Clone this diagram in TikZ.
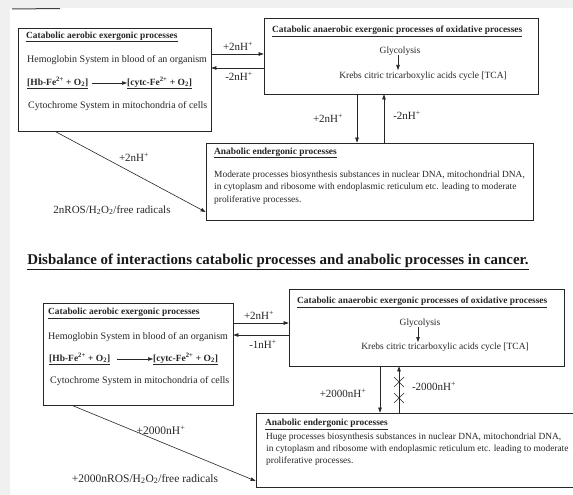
\documentclass[tikz,border=0pt]{standalone}
\usepackage{fontspec}
\setmainfont{Liberation Serif}
\usetikzlibrary{arrows.meta}
\newcommand{\Hp}{H\textsuperscript{+}}
\newcommand{\HtwoOtwo}{H\textsubscript{2}O\textsubscript{2}}
\begin{document}
\begin{tikzpicture}[x=1pt,y=-1pt,
  box/.style={draw=black!85, line width=0.7pt, inner sep=0pt},
  txt/.style={inner sep=0pt, anchor=west, text=black!85, font=\fontsize{10}{12}\selectfont},
  eqtxt/.style={inner sep=0pt, anchor=west, text=black!85, font=\fontsize{9.5}{11}\selectfont\bfseries},
  stxt/.style={inner sep=0pt, anchor=west, text=black!85, font=\fontsize{9.4}{11}\selectfont},
  ctxt/.style={inner sep=0pt, text=black!85, font=\fontsize{9.5}{11}\selectfont},
  head/.style={inner sep=0pt, anchor=west, text=black!85, font=\fontsize{9.4}{11}\selectfont\bfseries},
  chead/.style={inner sep=0pt, anchor=west, text=black!85, font=\fontsize{9.4}{11}\selectfont\bfseries},
  lab/.style={inner sep=0pt, text=black!85, font=\fontsize{11}{13}\selectfont},
  arr/.style={draw=black!85, line width=0.6pt, -{Triangle[length=5pt,width=3.5pt]}},
  ln/.style={draw=black!85, line width=0.6pt}
]
\clip (0,0) rectangle (573,495);
\useasboundingbox (0,0) rectangle (573,495);
\fill[gray!12] (0,0) rectangle (573,495);
\fill[white] (10,8) rectangle (573,495);
\draw[black!75, line width=1pt] (12,9) -- (60,8.5);

% ---------- top diagram ----------
\node[box, minimum width=193pt, minimum height=103pt] (A) at (114.5,79.5) {};
\node[head] (Ah) at (26,37) {\underline{Catabolic aerobic exergonic processes}};
\node[txt] (A1) at (27,60) {Hemoglobin System in blood of an organism};
\node[eqtxt] (A2l) at (27,83) {\underline{[Hb-Fe\textsuperscript{2+} + O\textsubscript{2}]}};
\node[eqtxt] (A2r) at (127,83) {\underline{[cytc-Fe\textsuperscript{2+} + O\textsubscript{2}]}};
\draw[arr] (A2l.east) ++(3,0) -- (A2r.west);
\node[txt] (A3) at (28,106) {Cytochrome System in mitochondria of cells};

\node[box, minimum width=274pt, minimum height=76pt] (B) at (401,56) {};
\node[head] (Bh) at (272,31) {\underline{Catabolic anaerobic exergonic processes of oxidative processes}};
\node[ctxt] (B1) at (400,51) {Glycolysis};
\node[ctxt] (B2) at (423,76) {Krebs citric tricarboxylic acids cycle [TCA]};
\draw[arr] (398,55) -- (398,70);

\node[box, minimum width=327pt, minimum height=77pt] (C) at (369.5,181.5) {};
\node[chead] (Ch) at (214,153) {\underline{Anabolic endergonic processes}};
\node[stxt] (C1) at (214,175) {Moderate processes biosynthesis substances in nuclear DNA, mitochondrial DNA,};
\node[stxt] (C2) at (214,187.5) {in cytoplasm and ribosome with endoplasmic reticulum etc. leading to moderate};
\node[stxt] (C3) at (214,200) {proliferative processes.};

\coordinate (ya) at (0,54);
\coordinate (yb) at (0,68);
\draw[arr] (A.east |- ya) -- (B.west |- ya);
\draw[arr] (B.west |- yb) -- (A.east |- yb);
\node[lab] (l1) at (238,46) {+2n\Hp};
\node[lab] (l2) at (239,76) {-2n\Hp};

\coordinate (xa) at (357,0);
\coordinate (xb) at (384,0);
\draw[arr] (B.south -| xa) -- (C.north -| xa);
\draw[arr] (C.north -| xb) -- (B.south -| xb);
\node[lab] (l3) at (328,118) {+2n\Hp};
\node[lab] (l4) at (407,115) {-2n\Hp};

\coordinate (da) at (55,0);
\coordinate (db) at (0,212);
\draw[arr] (A.south -| da) -- (C.west |- db);
\node[lab] (l5) at (134,157) {+2n\Hp};
\node[lab] (l6) at (112,210) {2nROS/\HtwoOtwo/free radicals};

% ---------- title ----------
\node[inner sep=0pt, text=black!90, font=\fontsize{14.9}{17}\selectfont\bfseries] (T) at (278,262)
  {\underline{Disbalance of interactions catabolic processes and anabolic processes in cancer.}};

% ---------- bottom diagram ----------
\node[box, minimum width=190pt, minimum height=102pt] (D) at (138,354) {};
\node[head] (Dh) at (48,313) {\underline{Catabolic aerobic exergonic processes}};
\node[txt] (D1) at (48,337) {Hemoglobin System in blood of an organism};
\node[eqtxt] (D2l) at (49,359) {\underline{[Hb-Fe\textsuperscript{2+} + O\textsubscript{2}]}};
\node[eqtxt] (D2r) at (153,359) {\underline{[cytc-Fe\textsuperscript{2+} + O\textsubscript{2}]}};
\draw[arr] (D2l.east) ++(6,0) -- (D2r.west);
\node[txt] (D3) at (50,381) {Cytochrome System in mitochondria of cells};

\node[box, minimum width=275pt, minimum height=77pt] (E) at (426.5,327.5) {};
\node[head] (Eh) at (297,302) {\underline{Catabolic anaerobic exergonic processes of oxidative processes}};
\node[ctxt] (E1) at (420,323) {Glycolysis};
\node[ctxt] (E2) at (445,347) {Krebs citric tricarboxylic acids cycle [TCA]};
\draw[arr] (418,327) -- (418,342);

\node[box, minimum width=344pt, minimum height=74pt] (F) at (428,450) {};
\node[chead] (Fh) at (265,424) {\underline{Anabolic endergonic processes}};
\node[stxt] (F1) at (266,437) {Huge processes biosynthesis substances in nuclear DNA, mitochondrial DNA,};
\node[stxt] (F2) at (266,449) {in cytoplasm and ribosome with endoplasmic reticulum etc. leading to moderate};
\node[stxt] (F3) at (266,461) {proliferative processes.};

\coordinate (yc) at (0,323);
\coordinate (yd) at (0,335);
\draw[arr] (D.east |- yc) -- (E.west |- yc);
\draw[arr] (E.west |- yd) -- (D.east |- yd);
\node[lab] (m1) at (259,315) {+2n\Hp};
\node[lab] (m2) at (263,344) {-1n\Hp};

\coordinate (xc) at (380,0);
\coordinate (xd) at (399,0);
\draw[arr] (E.south -| xc) -- (F.north -| xc);
\draw[arr] (F.north -| xd) -- (E.south -| xd);
\coordinate (k1) at (399,382);
\coordinate (k2) at (399,398);
\draw[ln] ([shift={(-5,-5)}]k1) -- ([shift={(5,5)}]k1);
\draw[ln] ([shift={(-5,5)}]k1) -- ([shift={(5,-5)}]k1);
\draw[ln] ([shift={(-5,-5)}]k2) -- ([shift={(5,5)}]k2);
\draw[ln] ([shift={(-5,5)}]k2) -- ([shift={(5,-5)}]k2);
\node[lab] (m3) at (343,393) {+2000n\Hp};
\node[lab] (m4) at (434,386) {-2000n\Hp};

\coordinate (dc) at (72,0);
\coordinate (dd) at (0,481);
\draw[arr] (D.south -| dc) -- (F.west |- dd);
\node[lab, font=\fontsize{11.5}{13}\selectfont] (m5) at (161,430) {+2000n\Hp};
\node[lab, font=\fontsize{11.5}{13}\selectfont] (m6) at (145,479) {+2000nROS/\HtwoOtwo/free radicals};
\end{tikzpicture}
\end{document}
